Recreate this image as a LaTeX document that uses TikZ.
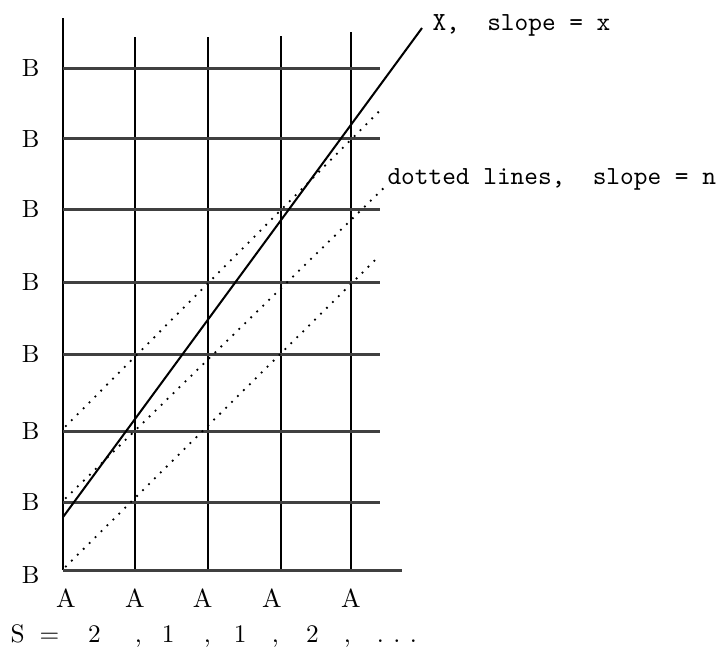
\documentclass[tikz,border=0pt]{standalone}
\usepackage{fontspec}
\usepackage{tikz}
\usetikzlibrary{positioning}

\begin{document}
\begin{tikzpicture}[every node/.style={inner sep=0pt}]
\tikzstyle{vln}=[draw=black, line width=0.8pt]
\tikzstyle{hln}=[draw=black!75, line width=1.2pt]
\tikzstyle{dts}=[line width=1pt, line cap=round, dash pattern=on 0pt off 3.3pt]
\tikzstyle{lblb}=[font=\fontsize{9.8}{11}\selectfont]
\tikzstyle{lbla}=[font=\fontsize{10.3}{12}\selectfont, anchor=base]
\tikzstyle{note}=[font=\fontsize{10.3}{12}\ttfamily, anchor=base west]
\useasboundingbox (-0.875,-1.167) rectangle (9.194,7.917);

% grid
\foreach \x/\t [count=\i] in {0/7.67,1/7.40,2.01/7.40,3.03/7.42,4/7.47}
  \draw[vln] (\x,0) coordinate (v\i) -- (\x,\t);
\foreach \y [count=\i] in {0.94,1.93,3.0,4.0,5.01,5.99,6.97} {
  \draw[hln] (0,\y) coordinate (h\i) -- (4.4,\y);
  \node[lblb] (b\i) at (-0.45,\y) {B};
}
\draw[hln] (0,0) coordinate (h0) -- (4.71,0);
\node[lblb] (b0) at (-0.45,-0.07) {B};

% A's along the bottom
\foreach \x [count=\i] in {0.04,1.0,1.94,2.9,4.0}
  \node[lbla] (a\i) at (\x,-0.514) {A};
\node[font=\fontsize{10}{12}\selectfont, anchor=base west] (s) at (-0.736,-1.0)
  {S\hspace{5.9pt}=\hspace{11.4pt}2\hspace{13.5pt},\hspace{7.9pt}1\hspace{11.6pt},\hspace{9.1pt}1\hspace{10pt},\hspace{10.7pt}2\hspace{10pt},\hspace{10.2pt}.\hspace{3.8pt}.\hspace{3.7pt}.};

% line X
\coordinate (x0) at (0,0.735);
\coordinate (x1) at (4.986,7.528);
\draw[line width=0.8pt] (x0) -- (x1);
\node[note] (xl) at (5.125,7.5) {X,~~slope = x};

% dotted lines
\node[note] (dl) at (4.5,5.35) {dotted lines,~~slope = n};
\coordinate (d1) at (0.04,2.0);
\coordinate (d2) at (0.04,1.0);
\coordinate (d3) at (0.04,0.05);
\draw[dts] (d1) -- (4.38,6.36);
\draw[dts] (d2) -- (dl.base west);
\draw[dts] (d3) -- (4.38,4.35);
\end{tikzpicture}
\end{document}
